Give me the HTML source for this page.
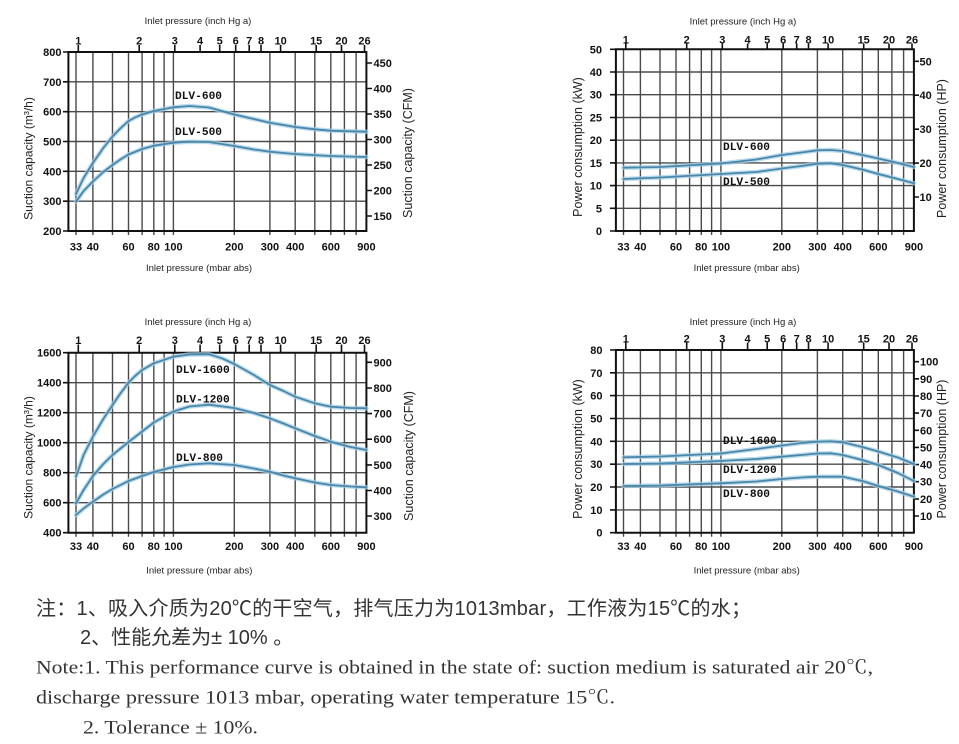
<!DOCTYPE html>
<html>
<head>
<meta charset="utf-8">
<style>
html,body{margin:0;padding:0;background:#fff;}
svg{display:block;}
.g{stroke:#4a4a4a;stroke-width:1.4;fill:none;}
.ax{stroke:#111;stroke-width:2;fill:none;}
.tk{stroke:#111;stroke-width:1.6;fill:none;}
.h{stroke:#a6d0e6;stroke-width:4.5;fill:none;opacity:.75;stroke-linejoin:round;stroke-linecap:round;}
.c{stroke:#4a86a9;stroke-width:1.8;fill:none;stroke-linejoin:round;stroke-linecap:round;}
.t{font-family:"Liberation Sans",sans-serif;font-weight:bold;font-size:11px;fill:#111;}
.ti{font-family:"Liberation Sans",sans-serif;font-size:9.5px;fill:#222;}
.at{font-family:"Liberation Sans",sans-serif;font-size:12.5px;fill:#222;}
.dl{font-family:"Liberation Mono",monospace;font-weight:bold;font-size:11.2px;fill:#111;}
.cn{font-family:"Liberation Sans","Noto Sans CJK SC",sans-serif;font-size:20px;fill:#333;}
.en{font-family:"Liberation Serif","Noto Serif CJK SC",serif;font-size:18.5px;fill:#333;}
</style>
</head>
<body>
<svg width="959" height="744" viewBox="0 0 959 744" xmlns="http://www.w3.org/2000/svg">

<!-- ================= Chart A (top-left) ================= -->
<g transform="translate(76,0)">
  <path class="g" d="M0 52V235M16.9 52V235M36.5 52V235M52.5 52V235M66.1 52V235M77.8 52V235M88.1 52V235M97.4 52V235M158.3 52V235M193.9 52V235M219.2 52V235M238.8 52V235M254.8 52V235M268.4 52V235M280.1 52V235
  M-7.6 81.8H290.4M-7.6 111.7H290.4M-7.6 141.5H290.4M-7.6 171.3H290.4M-7.6 201.2H290.4"/>
  <path class="ax" d="M-7.6 52H290.4V231H-7.6Z"/>
  <path class="tk" d="M-13 52H-7.6M-13 81.8H-7.6M-13 111.7H-7.6M-13 141.5H-7.6M-13 171.3H-7.6M-13 201.2H-7.6M-13 231H-7.6
  M290.4 63H296M290.4 88.5H296M290.4 114H296M290.4 139.5H296M290.4 165H296M290.4 190.5H296M290.4 216H296
  M2.3 45V52M63.2 45V52M98.8 45V52M124.1 45V52M143.7 45V52M159.7 45V52M173.2 45V52M185 45V52M204.6 45V52M240.2 45V52M265.5 45V52M288.5 45V52"/>
  <polyline class="h" points="0,194 7.6,178 16.9,163 27.3,148 36.5,136.5 44.5,128.3 52.5,121 59.3,117.3 66.1,114.5 77.8,111 97.4,107.3 113.4,106 133,107.5 158.3,114.5 177.9,119 193.9,122.7 207.5,125 219.2,127 238.8,129.3 254.8,130.7 274.4,131.3 290.4,131.7"/>
  <polyline class="c" points="0,194 7.6,178 16.9,163 27.3,148 36.5,136.5 44.5,128.3 52.5,121 59.3,117.3 66.1,114.5 77.8,111 97.4,107.3 113.4,106 133,107.5 158.3,114.5 177.9,119 193.9,122.7 207.5,125 219.2,127 238.8,129.3 254.8,130.7 274.4,131.3 290.4,131.7"/>
  <polyline class="h" points="0,201.7 7.6,191 16.9,181.5 27.3,172 36.5,165 44.5,159.4 52.5,154.5 66.1,149 77.8,145.7 97.4,142.7 113.4,141.7 133,142 158.3,146 177.9,149.5 193.9,151.7 207.5,153 219.2,154 238.8,155.2 254.8,156 274.4,156.6 290.4,157"/>
  <polyline class="c" points="0,201.7 7.6,191 16.9,181.5 27.3,172 36.5,165 44.5,159.4 52.5,154.5 66.1,149 77.8,145.7 97.4,142.7 113.4,141.7 133,142 158.3,146 177.9,149.5 193.9,151.7 207.5,153 219.2,154 238.8,155.2 254.8,156 274.4,156.6 290.4,157"/>
  <text class="ti" x="122" y="24" text-anchor="middle">Inlet pressure (inch Hg a)</text>
  <g class="t" text-anchor="middle">
    <text x="2.3" y="44.5">1</text><text x="63.2" y="44.5">2</text><text x="98.8" y="44.5">3</text><text x="124.1" y="44.5">4</text><text x="143.7" y="44.5">5</text><text x="159.7" y="44.5">6</text><text x="173.2" y="44.5">7</text><text x="185" y="44.5">8</text><text x="204.6" y="44.5">10</text><text x="240.2" y="44.5">15</text><text x="265.5" y="44.5">20</text><text x="288.5" y="44.5">26</text>
    <text x="0" y="250.5">33</text><text x="16.9" y="250.5">40</text><text x="52.5" y="250.5">60</text><text x="77.8" y="250.5">80</text><text x="97.4" y="250.5">100</text><text x="158.3" y="250.5">200</text><text x="193.9" y="250.5">300</text><text x="219.2" y="250.5">400</text><text x="254.8" y="250.5">600</text><text x="290.4" y="250.5">900</text>
  </g>
  <g class="t" text-anchor="end">
    <text x="-14.5" y="56">800</text><text x="-14.5" y="85.8">700</text><text x="-14.5" y="115.7">600</text><text x="-14.5" y="145.5">500</text><text x="-14.5" y="175.3">400</text><text x="-14.5" y="205.2">300</text><text x="-14.5" y="235">200</text>
  </g>
  <g class="t">
    <text x="297.5" y="67">450</text><text x="297.5" y="92.5">400</text><text x="297.5" y="118">350</text><text x="297.5" y="143.5">300</text><text x="297.5" y="169">250</text><text x="297.5" y="194.5">200</text><text x="297.5" y="220">150</text>
  </g>
  <text class="ti" x="123" y="271" text-anchor="middle">Inlet pressure (mbar abs)</text>
  <text class="at" style="font-size:12px" text-anchor="middle" transform="translate(-43.4,158.5) rotate(-90)">Suction capacity (m³/h)</text>
  <text class="at" text-anchor="middle" transform="translate(336,153) rotate(-90)">Suction capacity (CFM)</text>
  <text class="dl" x="99" y="99">DLV-600</text>
  <text class="dl" x="99" y="135">DLV-500</text>
</g>

<!-- ================= Chart B (top-right) ================= -->
<g transform="translate(623.5,0)">
  <path class="g" d="M0 49.3V235M16.9 49.3V235M36.5 49.3V235M52.5 49.3V235M66.1 49.3V235M77.8 49.3V235M88.1 49.3V235M97.4 49.3V235M158.3 49.3V235M193.9 49.3V235M219.2 49.3V235M238.8 49.3V235M254.8 49.3V235M268.4 49.3V235M280.1 49.3V235
  M-7.6 72H290.4M-7.6 94.7H290.4M-7.6 117.5H290.4M-7.6 140.2H290.4M-7.6 162.9H290.4M-7.6 185.6H290.4M-7.6 208.3H290.4"/>
  <path class="ax" d="M-7.6 49.3H290.4V231H-7.6Z"/>
  <path class="tk" d="M-13.5 49.3H-7.6M-13.5 72H-7.6M-13.5 94.7H-7.6M-13.5 117.5H-7.6M-13.5 140.2H-7.6M-13.5 162.9H-7.6M-13.5 185.6H-7.6M-13.5 208.3H-7.6M-13.5 231H-7.6
  M290.4 61.3H295.5M290.4 95.2H295.5M290.4 129.2H295.5M290.4 163.1H295.5M290.4 197H295.5
  M2.3 43.5V49.3M63.2 43.5V49.3M98.8 43.5V49.3M124.1 43.5V49.3M143.7 43.5V49.3M159.7 43.5V49.3M173.2 43.5V49.3M185 43.5V49.3M204.6 43.5V49.3M240.2 43.5V49.3M265.5 43.5V49.3M288.5 43.5V49.3"/>
  <polyline class="h" points="0,167.7 36.5,167 97.4,163.5 133,159.5 158.3,155 177.9,152.5 193.9,150.3 207.5,150 219.2,151 238.8,155 254.8,158.5 274.4,163 290.4,167"/>
  <polyline class="c" points="0,167.7 36.5,167 97.4,163.5 133,159.5 158.3,155 177.9,152.5 193.9,150.3 207.5,150 219.2,151 238.8,155 254.8,158.5 274.4,163 290.4,167"/>
  <polyline class="h" points="0,179 36.5,177.5 97.4,174 133,172 158.3,168.5 177.9,166 193.9,163.7 207.5,163.3 219.2,165 238.8,169.5 254.8,174 274.4,179 290.4,183.3"/>
  <polyline class="c" points="0,179 36.5,177.5 97.4,174 133,172 158.3,168.5 177.9,166 193.9,163.7 207.5,163.3 219.2,165 238.8,169.5 254.8,174 274.4,179 290.4,183.3"/>
  <text class="ti" x="119.5" y="24.5" text-anchor="middle">Inlet pressure (inch Hg a)</text>
  <g class="t" text-anchor="middle">
    <text x="2.3" y="43.5">1</text><text x="63.2" y="43.5">2</text><text x="98.8" y="43.5">3</text><text x="124.1" y="43.5">4</text><text x="143.7" y="43.5">5</text><text x="159.7" y="43.5">6</text><text x="173.2" y="43.5">7</text><text x="185" y="43.5">8</text><text x="204.6" y="43.5">10</text><text x="240.2" y="43.5">15</text><text x="265.5" y="43.5">20</text><text x="288.5" y="43.5">26</text>
    <text x="0" y="250.5">33</text><text x="16.9" y="250.5">40</text><text x="52.5" y="250.5">60</text><text x="77.8" y="250.5">80</text><text x="97.4" y="250.5">100</text><text x="158.3" y="250.5">200</text><text x="193.9" y="250.5">300</text><text x="219.2" y="250.5">400</text><text x="254.8" y="250.5">600</text><text x="290.4" y="250.5">900</text>
  </g>
  <g class="t" text-anchor="end">
    <text x="-21.5" y="53.3">50</text><text x="-21.5" y="76">40</text><text x="-21.5" y="98.7">30</text><text x="-21.5" y="121.5">25</text><text x="-21.5" y="144.2">20</text><text x="-21.5" y="166.9">15</text><text x="-21.5" y="189.6">10</text><text x="-21.5" y="212.3">5</text><text x="-21.5" y="235">0</text>
  </g>
  <g class="t">
    <text x="296" y="65.3">50</text><text x="296" y="99.2">40</text><text x="296" y="133.2">30</text><text x="296" y="167.1">20</text><text x="296" y="201">10</text>
  </g>
  <text class="ti" x="123.2" y="271" text-anchor="middle">Inlet pressure (mbar abs)</text>
  <text class="at" text-anchor="middle" transform="translate(-41.5,147) rotate(-90)">Power consumption (kW)</text>
  <text class="at" text-anchor="middle" transform="translate(322.5,148.5) rotate(-90)">Power consumption (HP)</text>
  <text class="dl" x="99.5" y="150">DLV-600</text>
  <text class="dl" x="99.5" y="185">DLV-500</text>
</g>

<!-- ================= Chart C (bottom-left) ================= -->
<g transform="translate(76,0)">
  <path class="g" d="M0 352.7V536.7M16.9 352.7V536.7M36.5 352.7V536.7M52.5 352.7V536.7M66.1 352.7V536.7M77.8 352.7V536.7M88.1 352.7V536.7M97.4 352.7V536.7M158.3 352.7V536.7M193.9 352.7V536.7M219.2 352.7V536.7M238.8 352.7V536.7M254.8 352.7V536.7M268.4 352.7V536.7M280.1 352.7V536.7
  M-7.6 382.7H290.4M-7.6 412.7H290.4M-7.6 442.7H290.4M-7.6 472.7H290.4M-7.6 502.7H290.4"/>
  <path class="ax" d="M-7.6 352.7H290.4V532.7H-7.6Z"/>
  <path class="tk" d="M-13 352.7H-7.6M-13 382.7H-7.6M-13 412.7H-7.6M-13 442.7H-7.6M-13 472.7H-7.6M-13 502.7H-7.6M-13 532.7H-7.6
  M290.4 362.3H296M290.4 388H296M290.4 413.6H296M290.4 439.2H296M290.4 464.9H296M290.4 490.5H296M290.4 516H296
  M2.3 344.5V352.7M63.2 344.5V352.7M98.8 344.5V352.7M124.1 344.5V352.7M143.7 344.5V352.7M159.7 344.5V352.7M173.2 344.5V352.7M185 344.5V352.7M204.6 344.5V352.7M240.2 344.5V352.7M265.5 344.5V352.7M288.5 344.5V352.7"/>
  <polyline class="h" points="0,476.7 7.6,455 16.9,436.7 27.3,419 36.5,405 44.5,393.3 52.5,382.7 59.3,375.8 66.1,370 77.8,363.3 97.4,356.7 113.4,354.5 133,354.3 146,358.3 158.3,364 177.9,375 193.9,385 207.5,391 219.2,396.7 238.8,403.3 254.8,406.7 274.4,408 290.4,408.3"/>
  <polyline class="c" points="0,476.7 7.6,455 16.9,436.7 27.3,419 36.5,405 44.5,393.3 52.5,382.7 59.3,375.8 66.1,370 77.8,363.3 97.4,356.7 113.4,354.5 133,354.3 146,358.3 158.3,364 177.9,375 193.9,385 207.5,391 219.2,396.7 238.8,403.3 254.8,406.7 274.4,408 290.4,408.3"/>
  <polyline class="h" points="0,503.3 7.6,490 16.9,476 27.3,464 36.5,455 52.5,442 66.1,431.5 77.8,422.5 97.4,411.5 113.4,406.5 133,404.7 158.3,408 177.9,413 193.9,418.3 207.5,423.5 219.2,428.3 238.8,436 254.8,441.7 274.4,447 290.4,450"/>
  <polyline class="c" points="0,503.3 7.6,490 16.9,476 27.3,464 36.5,455 52.5,442 66.1,431.5 77.8,422.5 97.4,411.5 113.4,406.5 133,404.7 158.3,408 177.9,413 193.9,418.3 207.5,423.5 219.2,428.3 238.8,436 254.8,441.7 274.4,447 290.4,450"/>
  <polyline class="h" points="0,515 7.6,508.5 16.9,501.7 27.3,494.5 36.5,489 52.5,481 66.1,476 77.8,472 97.4,467 113.4,464.5 133,463.3 158.3,465 177.9,468.5 193.9,471.7 207.5,475.5 219.2,478.3 238.8,482.5 254.8,485 274.4,486.5 290.4,487.3"/>
  <polyline class="c" points="0,515 7.6,508.5 16.9,501.7 27.3,494.5 36.5,489 52.5,481 66.1,476 77.8,472 97.4,467 113.4,464.5 133,463.3 158.3,465 177.9,468.5 193.9,471.7 207.5,475.5 219.2,478.3 238.8,482.5 254.8,485 274.4,486.5 290.4,487.3"/>
  <text class="ti" x="122" y="325" text-anchor="middle">Inlet pressure (inch Hg a)</text>
  <g class="t" text-anchor="middle">
    <text x="2.3" y="344">1</text><text x="63.2" y="344">2</text><text x="98.8" y="344">3</text><text x="124.1" y="344">4</text><text x="143.7" y="344">5</text><text x="159.7" y="344">6</text><text x="173.2" y="344">7</text><text x="185" y="344">8</text><text x="204.6" y="344">10</text><text x="240.2" y="344">15</text><text x="265.5" y="344">20</text><text x="288.5" y="344">26</text>
    <text x="0" y="550">33</text><text x="16.9" y="550">40</text><text x="52.5" y="550">60</text><text x="77.8" y="550">80</text><text x="97.4" y="550">100</text><text x="158.3" y="550">200</text><text x="193.9" y="550">300</text><text x="219.2" y="550">400</text><text x="254.8" y="550">600</text><text x="290.4" y="550">900</text>
  </g>
  <g class="t" text-anchor="end">
    <text x="-14.5" y="356.7">1600</text><text x="-14.5" y="386.7">1400</text><text x="-14.5" y="416.7">1200</text><text x="-14.5" y="446.7">1000</text><text x="-14.5" y="476.7">800</text><text x="-14.5" y="506.7">600</text><text x="-14.5" y="536.7">400</text>
  </g>
  <g class="t">
    <text x="297.5" y="366.3">900</text><text x="297.5" y="392">800</text><text x="297.5" y="417.6">700</text><text x="297.5" y="443.2">600</text><text x="297.5" y="468.9">500</text><text x="297.5" y="494.5">400</text><text x="297.5" y="520">300</text>
  </g>
  <text class="ti" x="123.3" y="573.5" text-anchor="middle">Inlet pressure (mbar abs)</text>
  <text class="at" style="font-size:12px" text-anchor="middle" transform="translate(-43.4,457.5) rotate(-90)">Suction capacity (m³/h)</text>
  <text class="at" text-anchor="middle" transform="translate(336.8,456) rotate(-90)">Suction capacity (CFM)</text>
  <text class="dl" x="100" y="373">DLV-1600</text>
  <text class="dl" x="100" y="402.5">DLV-1200</text>
  <text class="dl" x="100" y="461">DLV-800</text>
</g>

<!-- ================= Chart D (bottom-right) ================= -->
<g transform="translate(623.5,0)">
  <path class="g" d="M0 350V536.7M16.9 350V536.7M36.5 350V536.7M52.5 350V536.7M66.1 350V536.7M77.8 350V536.7M88.1 350V536.7M97.4 350V536.7M158.3 350V536.7M193.9 350V536.7M219.2 350V536.7M238.8 350V536.7M254.8 350V536.7M268.4 350V536.7M280.1 350V536.7
  M-7.6 372.8H290.4M-7.6 395.6H290.4M-7.6 418.5H290.4M-7.6 441.3H290.4M-7.6 464.2H290.4M-7.6 487H290.4M-7.6 509.9H290.4"/>
  <path class="ax" d="M-7.6 350H290.4V532.7H-7.6Z"/>
  <path class="tk" d="M-13.5 350H-7.6M-13.5 372.8H-7.6M-13.5 395.6H-7.6M-13.5 418.5H-7.6M-13.5 441.3H-7.6M-13.5 464.2H-7.6M-13.5 487H-7.6M-13.5 509.9H-7.6M-13.5 532.7H-7.6
  M290.4 361.7H295.5M290.4 378.8H295.5M290.4 396H295.5M290.4 413.1H295.5M290.4 430.3H295.5M290.4 447.4H295.5M290.4 464.6H295.5M290.4 481.7H295.5M290.4 498.9H295.5M290.4 516H295.5
  M2.3 342.5V350M63.2 342.5V350M98.8 342.5V350M124.1 342.5V350M143.7 342.5V350M159.7 342.5V350M173.2 342.5V350M185 342.5V350M204.6 342.5V350M240.2 342.5V350M265.5 342.5V350M288.5 342.5V350"/>
  <polyline class="h" points="0,457.3 36.5,456.5 97.4,453.5 133,449 158.3,445.5 177.9,443 193.9,441.7 207.5,441.3 219.2,442.3 238.8,447 254.8,451.5 274.4,457.5 290.4,464"/>
  <polyline class="c" points="0,457.3 36.5,456.5 97.4,453.5 133,449 158.3,445.5 177.9,443 193.9,441.7 207.5,441.3 219.2,442.3 238.8,447 254.8,451.5 274.4,457.5 290.4,464"/>
  <polyline class="h" points="0,464 36.5,463.5 97.4,461 133,459 158.3,456.7 177.9,455 193.9,453.5 207.5,453.3 219.2,455 238.8,460 254.8,465 274.4,473 290.4,481"/>
  <polyline class="c" points="0,464 36.5,463.5 97.4,461 133,459 158.3,456.7 177.9,455 193.9,453.5 207.5,453.3 219.2,455 238.8,460 254.8,465 274.4,473 290.4,481"/>
  <polyline class="h" points="0,486 36.5,485.5 97.4,483.3 133,481.5 158.3,479 177.9,477.5 193.9,476.7 207.5,476.7 219.2,476.7 238.8,481 254.8,486 274.4,491.5 290.4,496.7"/>
  <polyline class="c" points="0,486 36.5,485.5 97.4,483.3 133,481.5 158.3,479 177.9,477.5 193.9,476.7 207.5,476.7 219.2,476.7 238.8,481 254.8,486 274.4,491.5 290.4,496.7"/>
  <text class="ti" x="119.5" y="325" text-anchor="middle">Inlet pressure (inch Hg a)</text>
  <g class="t" text-anchor="middle">
    <text x="2.3" y="342.5">1</text><text x="63.2" y="342.5">2</text><text x="98.8" y="342.5">3</text><text x="124.1" y="342.5">4</text><text x="143.7" y="342.5">5</text><text x="159.7" y="342.5">6</text><text x="173.2" y="342.5">7</text><text x="185" y="342.5">8</text><text x="204.6" y="342.5">10</text><text x="240.2" y="342.5">15</text><text x="265.5" y="342.5">20</text><text x="288.5" y="342.5">26</text>
    <text x="0" y="550">33</text><text x="16.9" y="550">40</text><text x="52.5" y="550">60</text><text x="77.8" y="550">80</text><text x="97.4" y="550">100</text><text x="158.3" y="550">200</text><text x="193.9" y="550">300</text><text x="219.2" y="550">400</text><text x="254.8" y="550">600</text><text x="290.4" y="550">900</text>
  </g>
  <g class="t" text-anchor="end">
    <text x="-21" y="354">80</text><text x="-21" y="376.8">70</text><text x="-21" y="399.6">60</text><text x="-21" y="422.5">50</text><text x="-21" y="445.3">40</text><text x="-21" y="468.2">30</text><text x="-21" y="491">20</text><text x="-21" y="513.9">10</text><text x="-21" y="536.7">0</text>
  </g>
  <g class="t">
    <text x="296.5" y="365.7">100</text><text x="296.5" y="382.8">90</text><text x="296.5" y="400">80</text><text x="296.5" y="417.1">70</text><text x="296.5" y="434.3">60</text><text x="296.5" y="451.4">50</text><text x="296.5" y="468.6">40</text><text x="296.5" y="485.7">30</text><text x="296.5" y="502.9">20</text><text x="296.5" y="520">10</text>
  </g>
  <text class="ti" x="123.2" y="573.5" text-anchor="middle">Inlet pressure (mbar abs)</text>
  <text class="at" text-anchor="middle" transform="translate(-41.5,449) rotate(-90)">Power consumption (kW)</text>
  <text class="at" text-anchor="middle" transform="translate(322.5,449) rotate(-90)">Power consumption (HP)</text>
  <text class="dl" x="99.5" y="444">DLV-1600</text>
  <text class="dl" x="99.5" y="473">DLV-1200</text>
  <text class="dl" x="99.5" y="497">DLV-800</text>
</g>

<!-- ================= Notes ================= -->
<text class="cn" x="36" y="615" textLength="715" lengthAdjust="spacing">注：1、吸入介质为20℃的干空气，排气压力为1013mbar，工作液为15℃的水；</text>
<text class="cn" x="80" y="644">2、性能允差为± 10% 。</text>
<text class="en" x="36" y="673.5" textLength="837" lengthAdjust="spacingAndGlyphs">Note:1. This performance curve is obtained in the state of: suction medium is saturated air 20℃,</text>
<text class="en" x="36" y="703.5" textLength="579" lengthAdjust="spacingAndGlyphs">discharge pressure 1013 mbar, operating water temperature 15℃.</text>
<text class="en" x="83" y="733.5" textLength="175" lengthAdjust="spacingAndGlyphs">2. Tolerance ± 10%.</text>

</svg>
</body>
</html>
